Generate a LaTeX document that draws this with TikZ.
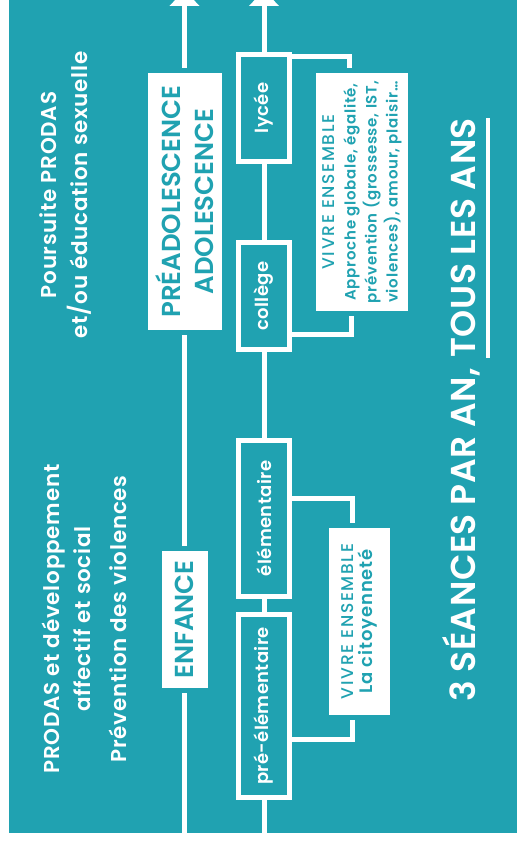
\documentclass[tikz,border=0pt]{standalone}
\usepackage{fontspec}
\setmainfont{Poppins}[UprightFont=* Medium, BoldFont=* SemiBold]
\usetikzlibrary{positioning, arrows.meta, calc}
\definecolor{Teal}{RGB}{32, 162, 177}

\begin{document}
\begin{tikzpicture}[
        x=1pt, y=-1pt,
        every node/.style={rotate=90, inner sep=0, text centered},
        stagebox/.style={fill=white, text=Teal, align=center, font=\bfseries\fontsize{26}{33}\selectfont},
        levelbox/.style={draw=white, line width=5pt, fill=Teal, text=white, minimum height=51pt, font=\bfseries\fontsize{18}{20}\selectfont\addfontfeature{LetterSpace=2}},
        vivrebox/.style={fill=white, text=Teal, align=center},
        notetext/.style={text=white, align=center, font=\bfseries\fontsize{21.5}{31}\selectfont\addfontfeature{LetterSpace=3.5}},
        headline/.style={text=white, font=\bfseries\fontsize{34.5}{40}\selectfont\addfontfeature{LetterSpace=1.5}},
        spine/.style={draw=white, line width=5pt},
        link/.style={draw=white, line width=5pt}
    ]
        \useasboundingbox (0, 0) rectangle (517, 848);
        \fill[Teal] (9, 0) rectangle (517, 833);

        % Notes
        \node[notetext] (poursuite) at (66, 195) {Poursuite PRODAS\\et/ou éducation sexuelle};
        \node[notetext] (prodas) at (84.5, 619) {PRODAS et développement\\affectif et social\\[5pt]Prévention des violences};

        % Stages
        \node[stagebox, minimum width=257pt, minimum height=74pt] (preado) at (184.5, 201.5) {PRÉADOLESCENCE\\ADOLESCENCE};
        \node[stagebox, minimum width=137pt, minimum height=46pt] (enfance) at (184.5, 619.5) {ENFANCE};

        % School levels
        \node[levelbox, minimum width=107pt] (lycee) at (264, 108) {lycée};
        \node[levelbox, minimum width=107pt] (college) at (264, 296) {collège};
        \node[levelbox, minimum width=156pt] (elem) at (264, 518.5) {élémentaire};
        \node[levelbox, minimum width=183pt] (preelem) at (264, 706) {pré-élémentaire};

        % Vivre ensemble
        \node[vivrebox, minimum width=238pt, minimum height=92pt, font=\bfseries\fontsize{15}{21}\selectfont\addfontfeature{LetterSpace=5}] (vivre1) at (362, 192) {{\mdseries\fontsize{17}{21}\selectfont\addfontfeature{LetterSpace=10}VIVRE ENSEMBLE}\\Approche globale, égalité,\\prévention (grossesse, IST,\\violences), amour, plaisir…};
        \node[vivrebox, minimum width=187pt, minimum height=61pt, font=\bfseries\fontsize{18}{19}\selectfont\addfontfeature{LetterSpace=5}] (vivre2) at (359.5, 621.5) {{\mdseries\fontsize{17}{19}\selectfont\addfontfeature{LetterSpace=10}VIVRE ENSEMBLE}\\La citoyenneté};

        % Title
        \node[headline, anchor=base west] (seances) at (475, 702) {3 SÉANCES PAR AN,};
        \node[headline, anchor=base west] (tous) at ([yshift=10pt]seances.base east) {TOUS LES ANS};
        \draw[white, line width=4pt] ([xshift=13pt]tous.base west) -- ([xshift=13pt]tous.base east);

        % Time lines
        \coordinate (topL) at (184.5, -10);
        \coordinate (botL) at (184.5, 833);
        \coordinate (topR) at (264, -10);
        \coordinate (botR) at (264, 833);
        \draw[spine, -{Triangle[width=29pt, length=16pt]}, shorten <=5pt] (preado.east) -- (topL);
        \draw[spine, shorten <=5pt, shorten >=5pt] (preado.west) -- (enfance.east);
        \draw[spine, shorten <=5pt] (enfance.west) -- (botL);
        \draw[spine, -{Triangle[width=29pt, length=16pt]}] (lycee.east) -- (topR);
        \draw[spine] (lycee.west) -- (college.east);
        \draw[spine] (college.west) -- (elem.east);
        \draw[spine] (elem.west) -- (preelem.east);
        \draw[spine] (preelem.west) -- (botR);

        % Links
        \draw[link] ([yshift=-5pt]lycee.south east) -| ([xshift=34pt, yshift=5pt]vivre1.north east);
        \draw[link] ([yshift=18pt]college.south west) -| ([xshift=36pt, yshift=-5pt]vivre1.north west);
        \draw[link] ([yshift=-60pt]elem.south east) -| ([xshift=23.5pt, yshift=5pt]vivre2.north east);
        \draw[link] ([yshift=61pt]preelem.south west) -| ([xshift=23.5pt, yshift=-5pt]vivre2.north west);
    \end{tikzpicture}
\end{document}
